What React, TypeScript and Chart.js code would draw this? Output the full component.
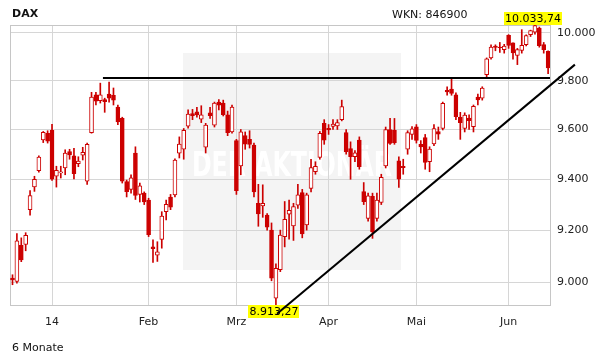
import React, { useEffect, useRef } from "react";
import { Chart, registerables } from "chart.js";
Chart.register(...registerables);

// Trading days (Dec 13, 2013 – Jun 13, 2014)
const dates = [
  "2013-12-13","2013-12-16","2013-12-17","2013-12-18","2013-12-19","2013-12-20","2013-12-23","2013-12-27","2013-12-30",
  "2014-01-02","2014-01-03","2014-01-06","2014-01-07","2014-01-08","2014-01-09","2014-01-10","2014-01-13","2014-01-14","2014-01-15","2014-01-16","2014-01-17","2014-01-20","2014-01-21","2014-01-22","2014-01-23","2014-01-24","2014-01-27","2014-01-28","2014-01-29","2014-01-30","2014-01-31",
  "2014-02-03","2014-02-04","2014-02-05","2014-02-06","2014-02-07","2014-02-10","2014-02-11","2014-02-12","2014-02-13","2014-02-14","2014-02-17","2014-02-18","2014-02-19","2014-02-20","2014-02-21","2014-02-24","2014-02-25","2014-02-26","2014-02-27","2014-02-28",
  "2014-03-03","2014-03-04","2014-03-05","2014-03-06","2014-03-07","2014-03-10","2014-03-11","2014-03-12","2014-03-13","2014-03-14","2014-03-17","2014-03-18","2014-03-19","2014-03-20","2014-03-21","2014-03-24","2014-03-25","2014-03-26","2014-03-27","2014-03-28","2014-03-31",
  "2014-04-01","2014-04-02","2014-04-03","2014-04-04","2014-04-07","2014-04-08","2014-04-09","2014-04-10","2014-04-11","2014-04-14","2014-04-15","2014-04-16","2014-04-17","2014-04-22","2014-04-23","2014-04-24","2014-04-25","2014-04-28","2014-04-29","2014-04-30",
  "2014-05-02","2014-05-05","2014-05-06","2014-05-07","2014-05-08","2014-05-09","2014-05-12","2014-05-13","2014-05-14","2014-05-15","2014-05-16","2014-05-19","2014-05-20","2014-05-21","2014-05-22","2014-05-23","2014-05-26","2014-05-27","2014-05-28","2014-05-29","2014-05-30",
  "2014-06-02","2014-06-03","2014-06-04","2014-06-05","2014-06-06","2014-06-09","2014-06-10","2014-06-11","2014-06-12","2014-06-13"
];

const opens = [
  9015,9003,9141,9145,9280,9370,9434,9558,9584,
  9597,9412,9425,9445,9511,9494,9462,9496,9392,9587,9742,9718,9722,9745,9740,9691,9645,9391,9360,9505,9340,9345,
  9318,9135,9103,9164,9272,9329,9338,9504,9520,9613,9665,9672,9642,9528,9668,9618,9712,9708,9660,9590,
  9555,9453,9575,9560,9537,9305,9295,9259,9200,8939,9047,9175,9262,9216,9298,9347,9220,9364,9430,9487,9625,
  9605,9612,9615,9640,9587,9523,9490,9557,9351,9246,9332,9246,9308,9453,9600,9597,9474,9452,9520,9580,
  9611,9540,9567,9470,9542,9592,9604,9760,9765,9742,9650,9604,9646,9611,9733,9728,9825,9895,9945,9940,9930,
  9990,9958,9905,9926,9951,9993,10003,10021,9951,9923
];
const highs = [
  9028,9187,9170,9190,9355,9412,9494,9592,9595,
  9621,9452,9452,9518,9520,9524,9490,9528,9545,9752,9752,9790,9728,9794,9770,9700,9650,9397,9418,9530,9385,9350,
  9325,9162,9155,9272,9318,9340,9482,9570,9604,9680,9682,9690,9697,9625,9690,9712,9722,9720,9675,9700,
  9560,9600,9590,9595,9545,9380,9378,9265,9228,9070,9200,9312,9318,9305,9380,9360,9345,9480,9470,9592,9640,
  9620,9640,9640,9720,9600,9550,9515,9570,9387,9345,9345,9345,9420,9610,9645,9645,9490,9480,9595,9612,
  9620,9555,9580,9530,9620,9610,9712,9775,9807,9750,9670,9668,9660,9700,9745,9775,9895,9950,9950,9960,9952,
  9993,9958,9935,10014,9992,10012,10033.74,10025,9960,9925
];
const lows = [
  8990,8996,9078,9120,9258,9352,9428,9547,9545,
  9395,9369,9405,9418,9480,9401,9450,9477,9380,9585,9700,9708,9670,9712,9700,9620,9385,9330,9345,9320,9310,9300,
  9175,9075,9079,9130,9240,9280,9330,9485,9480,9605,9640,9650,9628,9505,9645,9610,9680,9655,9575,9585,
  9340,9418,9520,9525,9330,9215,9250,9200,9005,8913.27,9040,9135,9165,9160,9285,9170,9200,9350,9420,9480,9540,
  9580,9600,9600,9635,9500,9400,9470,9440,9300,9235,9168,9235,9300,9445,9540,9540,9368,9420,9500,9560,
  9545,9505,9440,9430,9535,9560,9598,9740,9740,9640,9560,9590,9600,9590,9700,9720,9815,9890,9925,9918,9915,
  9935,9890,9867,9915,9945,9985,9995,9940,9915,9829
];
const closes = [
  9008,9158,9085,9180,9335,9400,9489,9588,9553,
  9400,9436,9430,9505,9497,9422,9473,9508,9540,9732,9716,9742,9714,9728,9720,9631,9392,9351,9406,9336,9374,9310,
  9182,9128,9116,9255,9301,9290,9477,9541,9597,9663,9656,9659,9660,9618,9656,9708,9699,9660,9587,9691,
  9355,9591,9541,9540,9350,9263,9305,9212,9015,9053,9181,9242,9277,9292,9338,9185,9338,9447,9452,9584,9557,
  9598,9622,9628,9693,9510,9490,9506,9450,9311,9334,9193,9318,9408,9600,9544,9547,9400,9446,9587,9603,
  9556,9530,9467,9521,9604,9581,9707,9754,9748,9652,9628,9659,9636,9694,9721,9770,9891,9941,9939,9938,9945,
  9947,9916,9930,9948,9989,10010,10031,9946,9930,9853
];

const yTickValues = [9000, 9200, 9400, 9600, 9800, 10000];
const monthNames = ["Jan","Feb","Mrz","Apr","Mai","Jun","Jul","Aug","Sep","Okt","Nov","Dez"];

// Drawn trend lines (index, value)
const resistanceLevel = 9811;
const resistanceStart = 20.6;
const trendStart = { x: 60.25, y: 8880 };
const trendEnd = { x: 128.1, y: 9867 };

const RED = "#cc0000";
const FONT = '"DejaVu Sans", Verdana, sans-serif';

function fmtInt(v: number) {
  return Math.round(v).toString().replace(/\B(?=(\d{3})+(?!\d))/g, ".");
}
function fmtDec(v: number) {
  const [i, d] = v.toFixed(2).split(".");
  return fmtInt(Number(i)) + "," + d;
}

const monthTicks: { index: number; label: string }[] = [];
for (let i = 1; i < dates.length; i++) {
  if (dates[i].slice(5, 7) !== dates[i - 1].slice(5, 7)) {
    const m = parseInt(dates[i].slice(5, 7), 10);
    monthTicks.push({ index: i, label: m === 1 ? dates[i].slice(2, 4) : monthNames[m - 1] });
  }
}

const decorPlugin = {
  id: "decor",
  beforeDraw(chart: any) {
    const ctx = chart.ctx;
    ctx.save();
    ctx.fillStyle = "#ffffff";
    ctx.fillRect(0, 0, chart.width, chart.height);
    // watermark
    ctx.fillStyle = "#f4f4f4";
    ctx.fillRect(183, 53, 218, 217);
    ctx.fillStyle = "#ffffff";
    ctx.font = `bold 34px ${FONT}`;
    ctx.textBaseline = "alphabetic";
    ctx.textAlign = "left";
    ctx.fillText("DER AKTIONÄR", 192, 176, 200);
    ctx.restore();
  },
  beforeDatasetsDraw(chart: any) {
    const ctx = chart.ctx;
    const a = chart.chartArea;
    const xs = chart.scales.x;
    const ys = chart.scales.y;
    ctx.save();
    ctx.strokeStyle = "#c6c6c6";
    ctx.lineWidth = 1;
    ctx.strokeRect(a.left + 0.5, a.top + 0.5, a.right - a.left, a.bottom - a.top);
    // high / low labels
    let hi = 0, lo = 0;
    for (let i = 0; i < highs.length; i++) {
      if (highs[i] > highs[hi]) hi = i;
      if (lows[i] < lows[lo]) lo = i;
    }
    ctx.font = `11px ${FONT}`;
    ctx.textAlign = "center";
    ctx.textBaseline = "middle";
    const drawLabel = (i: number, v: number, above: boolean) => {
      const t = fmtDec(v);
      const w = ctx.measureText(t).width;
      const cx = xs.getPixelForValue(i) - 2;
      const py = ys.getPixelForValue(v);
      const h = 13;
      const top = above ? py - h : py;
      ctx.fillStyle = "#ffff00";
      ctx.fillRect(Math.round(cx - w / 2 - 1), Math.round(top), Math.round(w + 2), h);
      ctx.fillStyle = "#000";
      ctx.fillText(t, cx, top + h / 2 + 0.5);
    };
    drawLabel(hi, highs[hi], true);
    drawLabel(lo, lows[lo], false);
    ctx.restore();
  },
  afterDraw(chart: any) {
    const ctx = chart.ctx;
    ctx.save();
    ctx.fillStyle = "#111";
    ctx.textBaseline = "alphabetic";
    ctx.textAlign = "left";
    ctx.font = `bold 11px ${FONT}`;
    ctx.fillText("DAX", 12, 17);
    ctx.font = `11px ${FONT}`;
    ctx.fillText("WKN: 846900", 392, 18);
    ctx.fillText("6 Monate", 12, 351);
    ctx.restore();
  },
};

export default function App() {
  const ref = useRef<HTMLCanvasElement | null>(null);
  useEffect(() => {
    if (!ref.current) return;
    Chart.defaults.font.family = FONT;
    Chart.defaults.font.size = 11;
    Chart.defaults.color = "#222";
    const bodies = dates.map((_, i) => ({ x: i, y: [opens[i], closes[i]] }));
    const wicks = dates.map((_, i) => ({ x: i, y: [lows[i], highs[i]] }));
    const chart = new Chart(ref.current, {
      type: "bar",
      data: {
        datasets: [
          {
            type: "line",
            data: [
              { x: resistanceStart, y: resistanceLevel },
              { x: dates.length - 0.57, y: resistanceLevel },
            ],
            borderColor: "#000",
            borderWidth: 2,
            pointRadius: 0,
            order: 0,
          } as any,
          {
            type: "line",
            data: [trendStart, trendEnd],
            borderColor: "#000",
            borderWidth: 2,
            pointRadius: 0,
            clip: false,
            order: 0,
          } as any,
          {
            data: bodies as any,
            backgroundColor: dates.map((_, i) => (closes[i] < opens[i] ? RED : "#ffffff")),
            borderColor: RED,
            borderWidth: 1,
            borderSkipped: false,
            barThickness: 4,
            grouped: false,
            order: 1,
          } as any,
          {
            data: wicks as any,
            backgroundColor: RED,
            borderWidth: 0,
            barThickness: 1,
            grouped: false,
            order: 2,
          } as any,
        ],
      },
      options: {
        responsive: false,
        animation: false,
        events: [],
        layout: { padding: { left: 10, top: 25, right: 0, bottom: 0 } },
        plugins: { legend: { display: false }, tooltip: { enabled: false } },
        scales: {
          x: {
            type: "linear",
            min: -0.57,
            max: dates.length - 0.57,
            offset: false,
            bounds: "data",
            afterBuildTicks: (s: any) => {
              s.ticks = monthTicks.map((t) => ({ value: t.index }));
            },
            afterFit: (s: any) => {
              s.height = 59;
            },
            grid: { color: "#d6d6d6", drawTicks: false, offset: false },
            border: { display: false },
            ticks: {
              padding: 11,
              autoSkip: false,
              maxRotation: 0,
              color: "#222",
              font: { size: 11, family: FONT },
              callback: (v: any) => {
                const t = monthTicks.find((m) => m.index === v);
                return t ? t.label : "";
              },
            },
          } as any,
          y: {
            type: "logarithmic",
            position: "right",
            min: lows.reduce((a, b) => Math.min(a, b)),
            max: highs.reduce((a, b) => Math.max(a, b)),
            bounds: "data",
            afterBuildTicks: (s: any) => {
              s.ticks = yTickValues.map((v) => ({ value: v }));
            },
            afterFit: (s: any) => {
              s.width = 61;
            },
            grid: { color: "#d6d6d6", drawTicks: false },
            border: { display: false },
            ticks: {
              padding: 7,
              color: "#222",
              font: { size: 11, family: FONT },
              callback: (v: any) => fmtInt(Number(v)),
            },
          } as any,
        },
      },
      plugins: [decorPlugin],
    });
    return () => chart.destroy();
  }, []);
  return (
    <div style={{ position: "absolute", left: 0, top: 0, width: 611, height: 364 }}>
      <canvas ref={ref} width={611} height={364} style={{ width: 611, height: 364 }} />
    </div>
  );
}
